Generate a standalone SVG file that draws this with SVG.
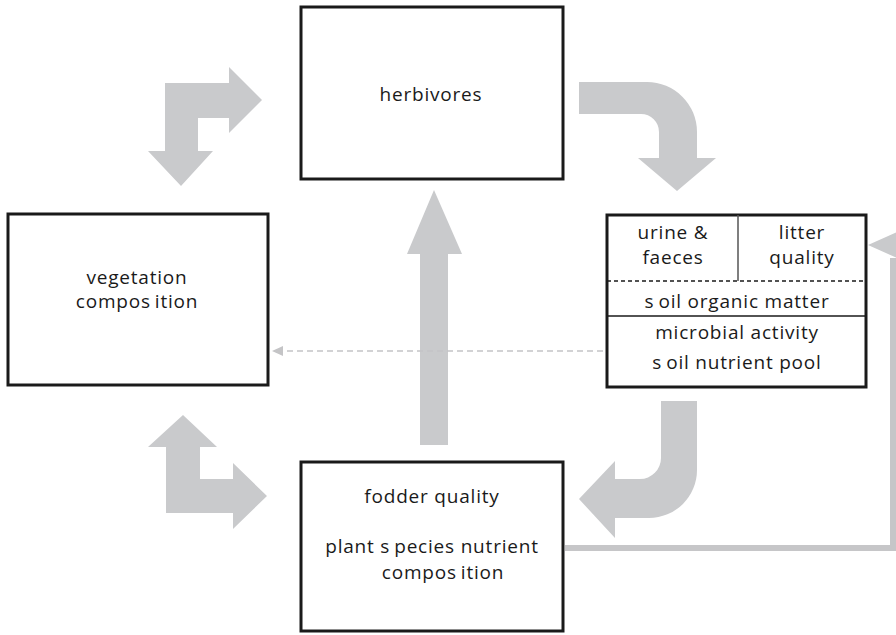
<svg xmlns="http://www.w3.org/2000/svg" width="896" height="635" viewBox="0 0 896 635">
  <style>
    .box { fill: #ffffff; stroke: #1a1a1a; stroke-width: 3; }
    .lbl { font-family: "Open Sans", "Noto Sans", "Liberation Sans", sans-serif; font-size: 19px; fill: #1a1a1a; text-anchor: middle; letter-spacing: 0.8px; }
    .flow { fill: #c9cacc; stroke: none; }
    .inner { stroke: #1a1a1a; stroke-width: 1.5; fill: none; }
  </style>

  <!-- connectors -->
  <g id="connectors">
    <!-- herbivores <-> vegetation (elbow, double-headed) -->
    <polygon class="flow" points="165,83 229,83 229,67 262,100 229,133 229,118 198,118 198,151 213,151 181,186 148,151 165,151"/>
    <!-- vegetation <-> fodder (elbow, double-headed) -->
    <polygon class="flow" points="183,415 217,447 200,447 200,479 233,479 233,463 267,496 233,529 233,513 166,513 166,447 148,447"/>
    <!-- herbivores -> soil (curved) -->
    <path class="flow" d="M579,82 H647 A50,50 0 0 1 697,132 V158 H716 L677,191 L638,158 H659 V132 A18,18 0 0 0 641,114 H579 Z"/>
    <!-- soil -> fodder (curved) -->
    <path class="flow" d="M661,401 H697 V470 A48,48 0 0 1 649,518 H615 V538 L579,499 L615,461 V479 H640 A21,21 0 0 0 661,458 Z"/>
    <!-- fodder -> herbivores -->
    <polygon class="flow" points="420,445 420,254 407,254 434,190 462,254 448,254 448,445"/>
    <!-- soil -> vegetation (dashed) -->
    <line x1="603" y1="351" x2="282" y2="351" stroke="#c4c4c6" stroke-width="1.5" stroke-dasharray="6,4"/>
    <polygon points="272,351 283,346 283,356" fill="#c4c4c6"/>
    <!-- fodder -> soil feedback loop -->
    <polyline points="565,548 893,548 893,258" fill="none" stroke="#c6c6c8" stroke-width="6"/>
    <polygon class="flow" points="868,245 906,228 906,262"/>
  </g>

  <!-- herbivores -->
  <g id="herbivores">
    <rect class="box" x="301" y="7" width="262" height="172"/>
    <text class="lbl" x="431" y="101">herbivores</text>
  </g>

  <!-- vegetation composition -->
  <g id="vegetation">
    <rect class="box" x="8" y="214" width="260" height="171"/>
    <text class="lbl" x="137" y="284">vegetation</text>
    <text class="lbl" x="137" y="308">compos<tspan dx="4">ition</tspan></text>
  </g>

  <!-- soil compartment -->
  <g id="soil">
    <rect class="box" x="607" y="215" width="259" height="172"/>
    <line x1="738" y1="215" x2="738" y2="281" stroke="#555" stroke-width="1.5"/>
    <line class="inner" x1="607" y1="281" x2="866" y2="281" stroke-dasharray="4,3"/>
    <line class="inner" x1="607" y1="316" x2="866" y2="316"/>
    <text class="lbl" x="673" y="239">urine &amp;</text>
    <text class="lbl" x="673" y="264">faeces</text>
    <text class="lbl" x="802" y="239">litter</text>
    <text class="lbl" x="802" y="264">quality</text>
    <text class="lbl" x="737" y="308">s<tspan dx="4">oil organic matter</tspan></text>
    <text class="lbl" x="737" y="339">microbial activity</text>
    <text class="lbl" x="737" y="369">s<tspan dx="4">oil nutrient pool</tspan></text>
  </g>

  <!-- fodder -->
  <g id="fodder">
    <rect class="box" x="301" y="462" width="262" height="169"/>
    <text class="lbl" x="432" y="503">fodder quality</text>
    <text class="lbl" x="432" y="553">plant s<tspan dx="4">pecies nutrient</tspan></text>
    <text class="lbl" x="443" y="579">compos<tspan dx="4">ition</tspan></text>
  </g>
</svg>
